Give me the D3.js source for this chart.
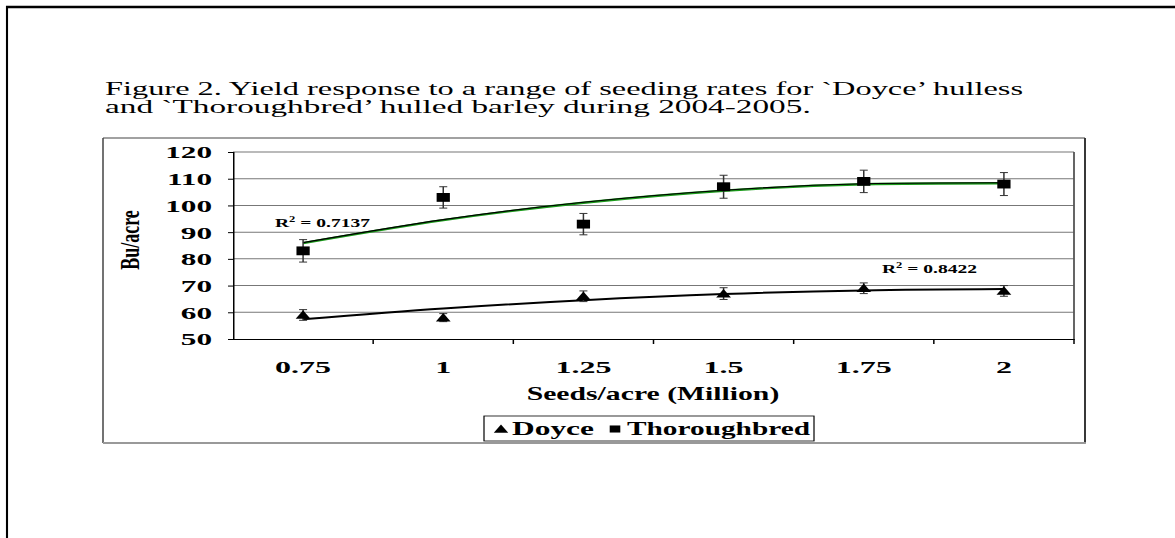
<!DOCTYPE html>
<html>
<head>
<meta charset="utf-8">
<script src="https://cdn.jsdelivr.net/npm/d3@7"></script>
<style>
  body { margin: 0; background: #fff; }
  svg { display: block; }
  text { font-family: "Liberation Serif", "Times New Roman", serif; }
</style>
</head>
<body>
<div id="wrapper"></div>
<script>
// data
const seedRates = ["0.75", "1", "1.25", "1.5", "1.75", "2"];
const doyce = [59, 58, 66, 67, 69, 68];
const doyceErr = [2, 1.5, 2, 2.2, 2, 2];
const thoro = [83, 103, 93, 107, 109, 108];
const thoroErr = [4.2, 4, 4, 4.3, 4.2, 4.3];
// polynomial trendlines as drawn
const doyceTrend = [57.4, 61.4, 64.5, 66.8, 68.2, 68.7];
const thoroTrend = [85.9, 94.5, 101, 105.5, 107.9, 108.3];
const yTicks = [50, 60, 70, 80, 90, 100, 110, 120];

// the original figure is stretched sideways, so draw narrow and stretch
const S = 1.5;
const fx = x => x / S;

const svg = d3.select("#wrapper").append("svg")
  .attr("width", 1175)
  .attr("height", 538)
  .attr("viewBox", `0 0 ${1175 / S} 538`)
  .attr("preserveAspectRatio", "none");

// text in the picture is a bit wider again than the marks
function widen(sel, k) {
  sel.each(function () {
    const len = this.getComputedTextLength();
    this.setAttribute("textLength", len * k);
    this.setAttribute("lengthAdjust", "spacingAndGlyphs");
  });
}

// outer frame (top + left only)
svg.append("line").attr("x1", fx(6)).attr("x2", fx(1175)).attr("y1", 7).attr("y2", 7)
  .attr("stroke", "#000").attr("stroke-width", 2.5);
svg.append("line").attr("x1", fx(7)).attr("x2", fx(7)).attr("y1", 6).attr("y2", 538)
  .attr("stroke", "#000").attr("stroke-width", 1.4);

// title
const title = svg.append("text").attr("font-size", 18.5);
const t1 = title.append("tspan").attr("x", fx(105)).attr("y", 95)
  .text("Figure 2. Yield response to a range of seeding rates for `Doyce\u2019 hulless");
const t2 = title.append("tspan").attr("x", fx(105)).attr("y", 113)
  .text("and `Thoroughbred\u2019 hulled barley during 2004-2005.");
t1.attr("textLength", fx(918)).attr("lengthAdjust", "spacingAndGlyphs");
widen(t2, 1.2);

// chart box
const box = { x0: fx(103), x1: fx(1085), y0: 138, y1: 443 };
svg.append("line").attr("x1", box.x0).attr("x2", box.x1).attr("y1", box.y0).attr("y2", box.y0)
  .attr("stroke", "#444").attr("stroke-width", 1);
svg.append("line").attr("x1", box.x0).attr("x2", box.x0).attr("y1", box.y0).attr("y2", box.y1)
  .attr("stroke", "#444").attr("stroke-width", 1);
svg.append("line").attr("x1", box.x1).attr("x2", box.x1).attr("y1", box.y0).attr("y2", box.y1)
  .attr("stroke", "#333").attr("stroke-width", 1.3);
svg.append("line").attr("x1", box.x0).attr("x2", box.x1 + 0.6).attr("y1", box.y1).attr("y2", box.y1)
  .attr("stroke", "#999").attr("stroke-width", 2);

// scales
const xScale = d3.scaleBand()
  .domain(seedRates)
  .range([fx(233), fx(1074)])
  .padding(0);
const cx = d => xScale(d) + xScale.bandwidth() / 2;

const yScale = d3.scaleLinear()
  .domain([50, 120])
  .range([339, 152]);

const bounds = svg.append("g");

// gridlines
bounds.append("g").selectAll("line")
  .data(yTicks.slice(1))
  .join("line")
  .attr("x1", fx(233)).attr("x2", fx(1074))
  .attr("y1", d => yScale(d)).attr("y2", d => yScale(d))
  .attr("stroke", "#777").attr("stroke-width", 1);

// right plot border
bounds.append("line")
  .attr("x1", fx(1074)).attr("x2", fx(1074))
  .attr("y1", yScale(120)).attr("y2", yScale(50))
  .attr("stroke", "#555").attr("stroke-width", 1.2);

// y axis
const yAxis = bounds.append("g")
  .attr("transform", `translate(${fx(233)},0)`)
  .call(d3.axisLeft(yScale).tickValues(yTicks).tickSize(fx(5)).tickPadding(fx(16)));
yAxis.select(".domain").attr("stroke", "#000").attr("stroke-width", 1);
yAxis.selectAll(".tick line").attr("stroke", "#000");
yAxis.selectAll(".tick text")
  .attr("font-size", 17.5).attr("font-weight", "bold").attr("fill", "#000")
  .attr("dy", "0.34em");
widen(yAxis.selectAll(".tick text"), 1.19);

// x axis: labels at centres, ticks at band edges
const xAxis = bounds.append("g")
  .attr("transform", `translate(0,${yScale(50)})`)
  .call(d3.axisBottom(xScale).tickSize(0).tickPadding(22).tickSizeOuter(0));
xAxis.select(".domain").attr("stroke", "#000").attr("stroke-width", 1);
xAxis.selectAll(".tick text")
  .attr("font-size", 17.5).attr("font-weight", "bold").attr("fill", "#000");
widen(xAxis.selectAll(".tick text"), 1.22);
xAxis.selectAll(".edge")
  .data(seedRates.slice(1).concat(["end"]))
  .join("line")
  .attr("class", "edge")
  .attr("x1", d => d === "end" ? fx(1074) : xScale(d))
  .attr("x2", d => d === "end" ? fx(1074) : xScale(d))
  .attr("y1", 0).attr("y2", 5)
  .attr("stroke", "#000").attr("stroke-width", 1);

// axis titles
const xTitle = svg.append("text")
  .attr("x", fx(653)).attr("y", 400)
  .attr("text-anchor", "middle")
  .attr("font-size", 18).attr("font-weight", "bold")
  .text("Seeds/acre (Million)");
widen(xTitle, 1.1);
svg.append("text")
  .attr("transform", `translate(${fx(139)},240) rotate(-90)`)
  .attr("text-anchor", "middle")
  .attr("font-size", 18).attr("font-weight", "bold")
  .text("Bu/acre");

// trendlines
const trendLine = d3.line()
  .x((d, i) => cx(seedRates[i]))
  .y(d => yScale(d))
  .curve(d3.curveNatural);

bounds.append("path")
  .attr("d", trendLine(thoroTrend))
  .attr("fill", "none").attr("stroke", "#1a9a1a").attr("stroke-width", 2.4);
bounds.append("path")
  .attr("d", trendLine(thoroTrend))
  .attr("transform", "translate(0,-0.5)")
  .attr("fill", "none").attr("stroke", "#000").attr("stroke-width", 1.1);
bounds.append("path")
  .attr("d", trendLine(doyceTrend))
  .attr("fill", "none").attr("stroke", "#000").attr("stroke-width", 2);

// error bars
function errorBars(values, errs) {
  const g = bounds.append("g").attr("stroke", "#333").attr("stroke-width", 1);
  values.forEach((v, i) => {
    const x = cx(seedRates[i]);
    const top = yScale(v + errs[i]);
    const bot = yScale(v - errs[i]);
    g.append("line").attr("x1", x).attr("x2", x).attr("y1", top).attr("y2", bot);
    g.append("line").attr("x1", x - fx(4)).attr("x2", x + fx(4)).attr("y1", top).attr("y2", top);
    g.append("line").attr("x1", x - fx(4)).attr("x2", x + fx(4)).attr("y1", bot).attr("y2", bot);
  });
}
errorBars(thoro, thoroErr);
errorBars(doyce, doyceErr);

// markers
const triangle = d3.symbol(d3.symbolTriangle, 42);
const square = d3.symbol(d3.symbolSquare, 78);

bounds.append("g").selectAll("path")
  .data(thoro)
  .join("path")
  .attr("d", square)
  .attr("transform", (d, i) => `translate(${cx(seedRates[i])},${yScale(d)})`)
  .attr("fill", "#000");
bounds.append("g").selectAll("path")
  .data(doyce)
  .join("path")
  .attr("d", triangle)
  .attr("transform", (d, i) => `translate(${cx(seedRates[i])},${yScale(d) + 1})`)
  .attr("fill", "#000");

// R² labels
function r2Label(x, y, val) {
  const t = svg.append("text").attr("x", x).attr("y", y)
    .attr("font-size", 12.5).attr("font-weight", "bold");
  t.append("tspan").text("R");
  t.append("tspan").attr("font-size", 8).attr("dy", -5).text("2");
  t.append("tspan").attr("dy", 5).text(" = " + val);
  t.attr("textLength", fx(95)).attr("lengthAdjust", "spacingAndGlyphs");
}
r2Label(fx(275), 227, "0.7137");
r2Label(fx(882), 273, "0.8422");

// legend
const leg = svg.append("g");
leg.append("rect")
  .attr("x", fx(484)).attr("y", 416)
  .attr("width", fx(814) - fx(484)).attr("height", 25)
  .attr("fill", "#fff").attr("stroke", "#000").attr("stroke-width", 0.8);
leg.append("path").attr("d", d3.symbol(d3.symbolTriangle, 40))
  .attr("transform", `translate(${fx(501)},${430})`);
leg.append("text").attr("x", fx(512)).attr("y", 435)
  .attr("font-size", 18).attr("font-weight", "bold").text("Doyce")
  .attr("textLength", fx(82)).attr("lengthAdjust", "spacingAndGlyphs");
leg.append("path").attr("d", d3.symbol(d3.symbolSquare, 50))
  .attr("transform", `translate(${fx(615)},${429})`);
leg.append("text").attr("x", fx(627)).attr("y", 435)
  .attr("font-size", 18).attr("font-weight", "bold").text("Thoroughbred")
  .attr("textLength", fx(183)).attr("lengthAdjust", "spacingAndGlyphs");
</script>
</body>
</html>
